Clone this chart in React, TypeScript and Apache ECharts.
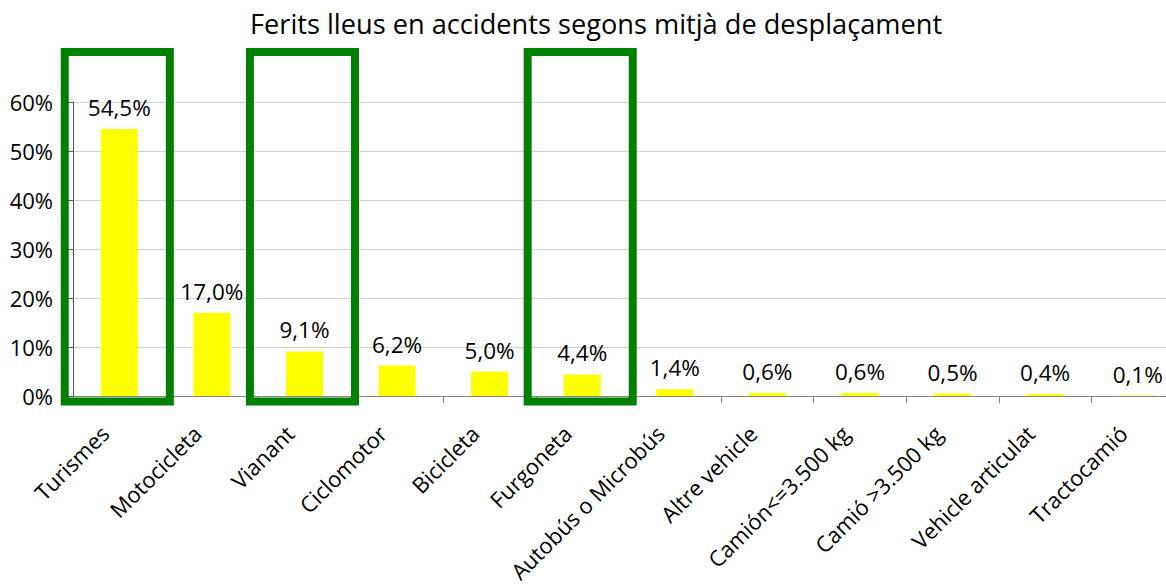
import React, { useEffect, useRef } from "react";
import * as echarts from "echarts";

const titleText = "Ferits lleus en accidents segons mitjà de desplaçament";
const categories = [
  "Turismes",
  "Motocicleta",
  "Vianant",
  "Ciclomotor",
  "Bicicleta",
  "Furgoneta",
  "Autobús o Microbús",
  "Altre vehicle",
  "Camión<=3.500 kg",
  "Camió >3.500 kg",
  "Vehicle articulat",
  "Tractocamió",
];
const values = [54.5, 17.0, 9.1, 6.2, 5.0, 4.4, 1.4, 0.6, 0.6, 0.5, 0.4, 0.1];
const highlighted = ["Turismes", "Vianant", "Furgoneta"];
const yTicks = [0, 10, 20, 30, 40, 50, 60];
const boxTopValue = 70.2;
const boxBottomValue = -1.1;

const FONT = "Open Sans";

export default function App() {
  const ref = useRef<HTMLDivElement>(null);

  useEffect(() => {
    if (!ref.current) return;
    const chart = echarts.init(ref.current, undefined, { renderer: "svg" });
    const option = {
      animation: false,
      backgroundColor: "#ffffff",
      textStyle: { fontFamily: FONT },
      title: {
        text: titleText,
        left: 245,
        top: 5,
        textStyle: { fontFamily: FONT, fontSize: 27.2, fontWeight: "normal", color: "#000000" },
      },
      grid: { left: 73, top: 102, width: 1111, height: 294, outerBoundsMode: "none", containLabel: false },
      xAxis: {
        type: "category",
        data: categories,
        axisLine: { show: true, lineStyle: { color: "#868686", width: 1 } },
        axisTick: { show: true, alignWithLabel: false, length: 7, lineStyle: { color: "#868686" } },
        axisLabel: {
          rotate: 45,
          interval: 0,
          margin: 34,
          fontFamily: FONT,
          fontSize: 22,
          color: "#000000",
          verticalAlign: "bottom",
          padding: [0, 10, 0, 0],
        },
        splitLine: { show: false },
      },
      yAxis: {
        type: "value",
        min: yTicks[0],
        max: yTicks[yTicks.length - 1],
        interval: 10,
        axisLine: { show: true, lineStyle: { color: "#595959", width: 1 } },
        axisTick: { show: true, length: 5, lineStyle: { color: "#595959" } },
        axisLabel: {
          formatter: "{value}%",
          margin: 20,
          fontFamily: FONT,
          fontSize: 22,
          color: "#000000",
        },
        splitLine: { show: true, lineStyle: { color: "#d4d4d4", width: 1 } },
      },
      series: [
        {
          type: "bar",
          data: values,
          barWidth: 37,
          itemStyle: { color: "#ffff00" },
          label: {
            show: true,
            position: "top",
            distance: 10,
            fontFamily: FONT,
            fontSize: 22.5,
            color: "#000000",
            formatter: (p: any) => p.value.toFixed(1).replace(".", ",") + "%",
          },
        },
        {
          type: "custom",
          z: 10,
          clip: false,
          silent: true,
          data: highlighted.map((n) => [categories.indexOf(n), 0]),
          renderItem: (params: any, api: any) => {
            const idx = api.value(0);
            const top = api.coord([idx, boxTopValue]);
            const bot = api.coord([idx, boxBottomValue]);
            const band = api.size([1, 0])[0];
            const w = band * 1.135;
            return {
              type: "rect",
              shape: { x: top[0] - w / 2 - 2, y: top[1], width: w, height: bot[1] - top[1] },
              style: { fill: "none", stroke: "#008000", lineWidth: 8 },
            };
          },
        },
      ],
    };
    chart.setOption(option as any);
    return () => chart.dispose();
  }, []);

  return (
    <div
      ref={ref}
      style={{ position: "absolute", left: 0, top: 0, width: 1166, height: 587 }}
    />
  );
}
